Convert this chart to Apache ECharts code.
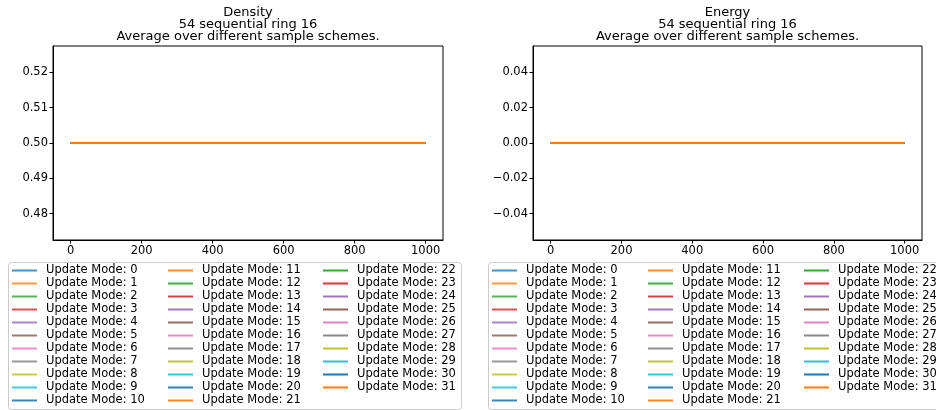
<!DOCTYPE html>
<html>
<head>
<meta charset="utf-8">
<script src="https://cdn.jsdelivr.net/npm/echarts@6/dist/echarts.min.js"></script>
<style>
  html, body { margin: 0; padding: 0; background: #fff; }
  #chart { width: 936px; height: 410px; }
</style>
</head>
<body>
<div id="chart"></div>
<script>
// Update modes compared in both panels
const updateModes = [0, 1, 2, 3, 4, 5, 6, 7, 8, 9, 10, 11, 12, 13, 14, 15,
                     16, 17, 18, 19, 20, 21, 22, 23, 24, 25, 26, 27, 28, 29, 30, 31];

// First and last simulation step of each run
const sampleSteps = [0, 999];

// Averaged density per update mode (flat over all steps)
const densityAvg = [0.5, 0.5, 0.5, 0.5, 0.5, 0.5, 0.5, 0.5, 0.5, 0.5, 0.5, 0.5, 0.5, 0.5, 0.5, 0.5,
                    0.5, 0.5, 0.5, 0.5, 0.5, 0.5, 0.5, 0.5, 0.5, 0.5, 0.5, 0.5, 0.5, 0.5, 0.5, 0.5];

// Averaged energy per update mode (flat over all steps)
const energyAvg = [0, 0, 0, 0, 0, 0, 0, 0, 0, 0, 0, 0, 0, 0, 0, 0,
                   0, 0, 0, 0, 0, 0, 0, 0, 0, 0, 0, 0, 0, 0, 0, 0];

// Tick positions
const xTicks = [0, 200, 400, 600, 800, 1000];
const densityTicks = [0.48, 0.49, 0.50, 0.51, 0.52];
const energyTicks = [-0.04, -0.02, 0.00, 0.02, 0.04];

// Titles
const titleLines = ['54 sequential ring 16', 'Average over different sample schemes.'];

// tab10 palette
const tab10 = [[31,119,180],[255,127,14],[44,160,44],[214,39,40],[148,103,189],
               [140,86,75],[227,119,194],[127,127,127],[188,189,34],[23,190,207]];
function modeColor(i) {
  const c = tab10[i % 10];
  const a = i < 10 ? 0.8 : (i < 20 ? 0.88 : (i < 30 ? 0.93 : 1));
  return 'rgba(' + c[0] + ',' + c[1] + ',' + c[2] + ',' + a + ')';
}

const FONT = 'DejaVu Sans';
const names = updateModes.map(m => 'Update Mode: ' + m);

const panels = [
  { title: 'Density', left: 53, width: 390, values: densityAvg, min: 0.4725, max: 0.5275, ticks: densityTicks, legendX: [12, 168, 323], frameX: 8, frameW: 453 },
  { title: 'Energy',  left: 533, width: 389, values: energyAvg, min: -0.055, max: 0.055, ticks: energyTicks, legendX: [492, 648, 804], frameX: 488, frameW: 470 }
];

function fmt(v) {
  const s = Math.abs(v).toFixed(2);
  return (v < -1e-12 ? '\u2212' : '') + s;
}

const option = {
  animation: false,
  backgroundColor: '#fff',
  textStyle: { fontFamily: FONT },
  title: panels.map(p => ({
    text: [p.title].concat(titleLines).join('\n'),
    left: p.left + p.width / 2,
    top: 7,
    textAlign: 'center',
    padding: 0,
    textStyle: { fontFamily: FONT, fontSize: 13, fontWeight: 'normal', color: '#000', lineHeight: 12 }
  })),
  grid: panels.map(p => ({
    left: p.left, top: 46, width: p.width, height: 194,
    show: true, borderColor: '#000', borderWidth: 1, backgroundColor: 'transparent',
    containLabel: false
  })),
  xAxis: panels.map((p, gi) => ({
    type: 'value', gridIndex: gi, min: -49.95, max: 1048.95,
    axisLine: { show: true, onZero: false, lineStyle: { color: '#000', width: 1 } },
    axisTick: { show: true, length: 3.5, lineStyle: { color: '#000' }, customValues: xTicks },
    axisLabel: { color: '#000', fontSize: 11.5, fontFamily: FONT, margin: 5, customValues: xTicks, formatter: v => String(Math.round(v)) },
    splitLine: { show: false }
  })),
  yAxis: panels.map((p, gi) => ({
    type: 'value', gridIndex: gi, min: p.min, max: p.max,
    axisLine: { show: true, onZero: false, lineStyle: { color: '#000', width: 1 } },
    axisTick: { show: true, length: 3.5, lineStyle: { color: '#000' }, customValues: p.ticks },
    axisLabel: { color: '#000', fontSize: 11.5, fontFamily: FONT, margin: 5, customValues: p.ticks, formatter: fmt },
    splitLine: { show: false }
  })),
  legend: [],
  graphic: panels.map(p => ({
    type: 'rect', left: p.frameX, top: 262, z: 0, silent: true,
    shape: { width: p.frameW, height: 147, r: 3 },
    style: { fill: 'rgba(255,255,255,0.8)', stroke: '#cccccc', lineWidth: 1 }
  })),
  series: []
};

// Three legend columns per panel: modes 0-10, 11-21, 22-31
const columns = [names.slice(0, 11), names.slice(11, 22), names.slice(22)];
panels.forEach(p => {
  columns.forEach((col, ci) => {
    option.legend.push({
      orient: 'vertical', left: p.legendX[ci], top: 264, padding: 0, itemGap: 0,
      itemWidth: 25, itemHeight: 2, icon: 'rect', selectedMode: false, z: 5,
      textStyle: { fontFamily: FONT, fontSize: 11.5, color: '#000', lineHeight: 13, padding: [0, 0, 0, 4] },
      data: col
    });
  });
});

panels.forEach((p, gi) => {
  updateModes.forEach((m, i) => {
    option.series.push({
      name: names[i], type: 'line', xAxisIndex: gi, yAxisIndex: gi,
      showSymbol: false, symbol: 'none',
      color: modeColor(i),
      lineStyle: { width: 2, color: modeColor(i) },
      data: sampleSteps.map(s => [s, p.values[i]])
    });
  });
});

const chart = echarts.init(document.getElementById('chart'), null, { renderer: 'canvas' });
chart.setOption(option);
</script>
</body>
</html>
